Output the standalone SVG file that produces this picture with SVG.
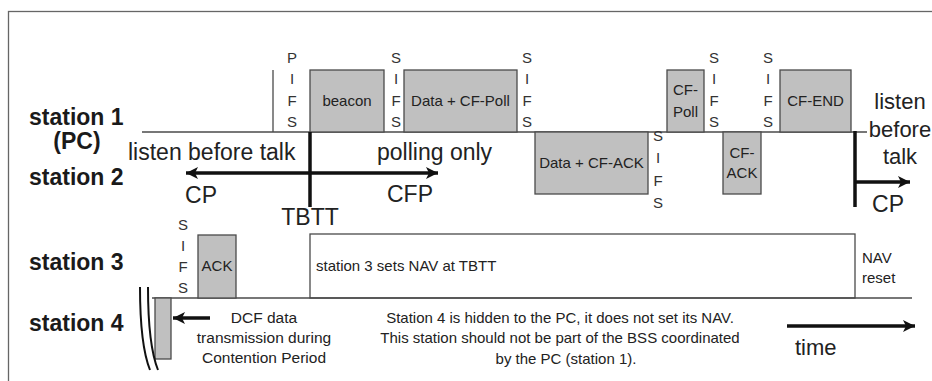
<svg xmlns="http://www.w3.org/2000/svg" width="932" height="381" viewBox="0 0 932 381">
<style>
text{font-family:"Liberation Sans",Arial,sans-serif;fill:#222}
.lbl{font-weight:bold;font-size:23px;fill:#1a1a1a}
.big{font-size:23px}
.sm{font-size:15px;text-anchor:middle}
.sf{font-size:15px;text-anchor:middle;fill:#333}
.box{fill:#c0c0c0;stroke:#4a4a4a;stroke-width:1.3}
.nav{fill:none;stroke:#4a4a4a;stroke-width:1.3}
.thin{stroke:#4a4a4a;stroke-width:1.3;fill:none}
.thick{stroke:#111;stroke-width:3.5;fill:none}
</style>
<defs>
<marker id="ah" markerUnits="userSpaceOnUse" markerWidth="14" markerHeight="12" refX="12" refY="6" orient="auto-start-reverse">
<path d="M0,0 L12,6 L0,12 L3,6 z" fill="#111"/>
</marker>
</defs>
<rect x="0" y="0" width="932" height="381" fill="#fff"/>
<rect x="8.5" y="11.5" width="1000" height="500" fill="none" stroke="#666" stroke-width="1.3"/>

<g id="labels">
<text class="lbl" x="29" y="125">station 1</text>
<text class="lbl" x="77" y="149" text-anchor="middle">(PC)</text>
<text class="lbl" x="29" y="185">station 2</text>
<text class="lbl" x="29" y="270">station 3</text>
<text class="lbl" x="29" y="331">station 4</text>
</g>

<g id="timelines">
<line class="thin" x1="142" y1="132" x2="867" y2="132"/>
<line class="thin" x1="152" y1="298" x2="912" y2="298"/>
<line class="thin" x1="273" y1="70" x2="273" y2="132"/>
</g>

<g id="ifs">
<g id="pifs"><text class="sf" x="292" y="63">P</text><text class="sf" x="292" y="84">I</text><text class="sf" x="292" y="106">F</text><text class="sf" x="292" y="127">S</text></g>
<g id="sifs1"><text class="sf" x="396" y="63">S</text><text class="sf" x="396" y="84">I</text><text class="sf" x="396" y="106">F</text><text class="sf" x="396" y="127">S</text></g>
<g id="sifs2"><text class="sf" x="527" y="63">S</text><text class="sf" x="527" y="84">I</text><text class="sf" x="527" y="106">F</text><text class="sf" x="527" y="127">S</text></g>
<g id="sifs3"><text class="sf" x="658" y="141">S</text><text class="sf" x="658" y="163">I</text><text class="sf" x="658" y="186">F</text><text class="sf" x="658" y="208">S</text></g>
<g id="sifs4"><text class="sf" x="714" y="63">S</text><text class="sf" x="714" y="84">I</text><text class="sf" x="714" y="106">F</text><text class="sf" x="714" y="127">S</text></g>
<g id="sifs5"><text class="sf" x="768" y="63">S</text><text class="sf" x="768" y="84">I</text><text class="sf" x="768" y="106">F</text><text class="sf" x="768" y="127">S</text></g>
<g id="sifs6"><text class="sf" x="183" y="230">S</text><text class="sf" x="183" y="251">I</text><text class="sf" x="183" y="272">F</text><text class="sf" x="183" y="293">S</text></g>
</g>

<g id="beacon"><rect class="box" x="310" y="70" width="74" height="62"/><text class="sm" x="347" y="106">beacon</text></g>
<g id="data-cf-poll"><rect class="box" x="404" y="70" width="113" height="62"/><text class="sm" x="460.5" y="106">Data + CF-Poll</text></g>
<g id="data-cf-ack"><rect class="box" x="535" y="132" width="113" height="62"/><text class="sm" x="591.5" y="168">Data + CF-ACK</text></g>
<g id="cf-poll"><rect class="box" x="667" y="70" width="37" height="62"/><text class="sm" x="685.5" y="95">CF-</text><text class="sm" x="685.5" y="117">Poll</text></g>
<g id="cf-ack"><rect class="box" x="723" y="132" width="38" height="62"/><text class="sm" x="742" y="158">CF-</text><text class="sm" x="742" y="178">ACK</text></g>
<g id="cf-end"><rect class="box" x="780" y="70" width="71" height="62"/><text class="sm" x="815.5" y="106">CF-END</text></g>
<g id="ack"><rect class="box" x="198" y="235" width="38" height="63"/><text class="sm" x="217" y="271">ACK</text></g>
<g id="nav"><rect class="nav" x="310" y="234" width="545" height="64"/><text class="sm" x="316" y="271" style="text-anchor:start">station 3 sets NAV at TBTT</text></g>
<g id="nav-reset"><text class="sm" x="862" y="263" style="text-anchor:start">NAV</text><text class="sm" x="862" y="283" style="text-anchor:start">reset</text></g>
<g id="station4-dcf"><rect class="box" x="155" y="298" width="16" height="61"/>
<path d="M140,287 Q140,345 150,370 M148,287 Q148,345 158,370" stroke="#111" stroke-width="2" fill="none"/></g>

<g id="connectors">
<line class="thick" x1="310" y1="132" x2="310" y2="207"/>
<line class="thick" x1="855" y1="131" x2="855" y2="207"/>
<line class="thick" x1="186" y1="173" x2="438" y2="173" marker-start="url(#ah)" marker-end="url(#ah)"/>
<line class="thick" x1="855" y1="182" x2="910" y2="182" marker-end="url(#ah)"/>
<line class="thick" x1="210" y1="318" x2="173" y2="318" marker-end="url(#ah)"/>
<line class="thick" x1="787" y1="326" x2="915" y2="326" marker-end="url(#ah)"/>
</g>

<g id="period-labels">
<text class="big" x="128" y="160">listen before talk</text>
<text class="big" x="377" y="160">polling only</text>
<text class="big" x="201" y="203" text-anchor="middle">CP</text>
<text class="big" x="410" y="202" text-anchor="middle">CFP</text>
<text class="big" x="310" y="225" text-anchor="middle">TBTT</text>
<text class="big" x="900" y="109" text-anchor="middle" style="font-size:22px">listen</text>
<text class="big" x="900" y="137" text-anchor="middle" style="font-size:22px">before</text>
<text class="big" x="900" y="164" text-anchor="middle" style="font-size:22px">talk</text>
<text class="big" x="888" y="212" text-anchor="middle">CP</text>
<text class="big" x="795" y="355" style="font-size:22px">time</text>
</g>

<g id="notes">
<text class="sm" x="264" y="323" style="font-size:15.5px">DCF data</text>
<text class="sm" x="264" y="343" style="font-size:15.5px">transmission during</text>
<text class="sm" x="264" y="363" style="font-size:15.5px">Contention Period</text>
<text class="sm" x="560" y="323">Station 4 is hidden to the PC, it does not set its NAV.</text>
<text class="sm" x="560" y="343">This station should not be part of the BSS coordinated</text>
<text class="sm" x="566" y="364">by the PC (station 1).</text>
</g>
</svg>
